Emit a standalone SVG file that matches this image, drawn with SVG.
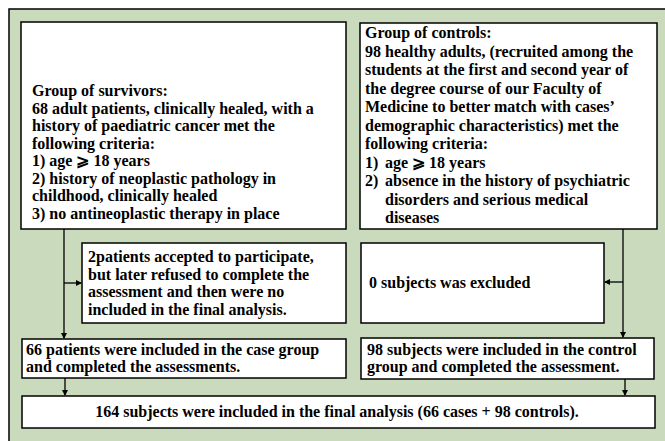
<svg xmlns="http://www.w3.org/2000/svg" width="665" height="441" viewBox="0 0 665 441">
<defs>
<marker id="ah" markerWidth="6" markerHeight="6" refX="5" refY="3" orient="auto" markerUnits="userSpaceOnUse">
<path d="M0,0 L6,3 L0,6 z" fill="#000"/>
</marker>
<style>
.box{fill:#fff;stroke:#000;stroke-width:1.5}
.t{font-family:"Liberation Serif","Times New Roman",serif;font-weight:bold;font-size:16px;fill:#000}
.c{stroke:#000;stroke-width:1.3;fill:none}
</style>
</defs>
<rect x="0" y="0" width="665" height="441" fill="#fff"/>
<rect x="9" y="9" width="680" height="460" fill="#cadbbd" stroke="#000" stroke-width="1.5"/>
<g id="survivors">
<rect class="box" x="21" y="22" width="325" height="207"/>
<text class="t"><tspan x="32" y="96">Group of survivors:</tspan><tspan x="32" y="113.5">68 adult patients, clinically healed, with a</tspan><tspan x="32" y="131">history of paediatric cancer met the</tspan><tspan x="32" y="148.5">following criteria:</tspan><tspan x="32" y="166">1) age ⩾ 18 years</tspan><tspan x="32" y="183.5">2) history of neoplastic pathology in</tspan><tspan x="32" y="201">childhood, clinically healed</tspan><tspan x="32" y="218.5">3) no antineoplastic therapy in place</tspan></text>
</g>
<g id="controls">
<rect class="box" x="360" y="23" width="297" height="206"/>
<text class="t"><tspan x="365" y="38">Group of controls:</tspan><tspan x="365" y="56.5">98 healthy adults, (recruited among the</tspan><tspan x="365" y="75">students at the first and second year of</tspan><tspan x="365" y="93.5">the degree course of our Faculty of</tspan><tspan x="365" y="112">Medicine to better match with cases’</tspan><tspan x="365" y="130.5">demographic characteristics) met the</tspan><tspan x="365" y="149">following criteria:</tspan><tspan x="365" y="167.5">1)</tspan><tspan x="385" y="167.5">age ⩾ 18 years</tspan><tspan x="365" y="186">2)</tspan><tspan x="385" y="186">absence in the history of psychiatric</tspan><tspan x="385" y="204.5">disorders and serious medical</tspan><tspan x="385" y="223">diseases</tspan></text>
</g>
<g id="refused">
<rect class="box" x="82" y="243" width="264" height="80"/>
<text class="t"><tspan x="88" y="262">2patients accepted to participate,</tspan><tspan x="88" y="279.5">but later refused to complete the</tspan><tspan x="88" y="297">assessment and then were no</tspan><tspan x="88" y="314.5">included in the final analysis.</tspan></text>
</g>
<g id="excluded">
<rect class="box" x="361" y="243" width="243" height="80"/>
<text class="t" x="369" y="288">0 subjects was excluded</text>
</g>
<g id="cases">
<rect class="box" x="22" y="339" width="324" height="39"/>
<text class="t"><tspan x="26" y="355">66 patients were included in the case group</tspan><tspan x="26" y="372">and completed the assessments.</tspan></text>
</g>
<g id="control-group">
<rect class="box" x="361" y="338" width="293" height="41"/>
<text class="t"><tspan x="367" y="355">98 subjects were included in the control</tspan><tspan x="367" y="372">group and completed the assessment.</tspan></text>
</g>
<g id="final">
<rect class="box" x="22" y="396" width="633" height="32"/>
<text class="t" x="337" y="417" text-anchor="middle">164 subjects were included in the final analysis (66 cases + 98 controls).</text>
</g>
<g id="connectors">
<path class="c" d="M64,229 V338" marker-end="url(#ah)"/>
<path class="c" d="M64,283 H81" marker-end="url(#ah)"/>
<path class="c" d="M623,229 V337" marker-end="url(#ah)"/>
<path class="c" d="M623,282 H605" marker-end="url(#ah)"/>
<path class="c" d="M65,378 V395" marker-end="url(#ah)"/>
<path class="c" d="M625,379 V395" marker-end="url(#ah)"/>
</g>
</svg>
